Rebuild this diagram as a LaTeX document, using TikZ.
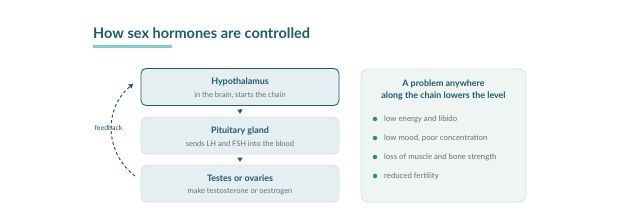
\documentclass[tikz,border=0pt]{standalone}
\usepackage{fontspec}
\setmainfont{Lato}
\usetikzlibrary{arrows.meta}
\definecolor{dark}{HTML}{1F5A6E}
\definecolor{subgrey}{HTML}{6A6F72}
\definecolor{boxfill}{HTML}{E5EEF1}
\definecolor{boxline}{HTML}{D7E5EA}
\definecolor{accent}{HTML}{7FD3C6}
\definecolor{panelfill}{HTML}{EEF5F3}
\definecolor{panelline}{HTML}{D3E5E0}
\definecolor{bullet}{HTML}{2A8C7E}
\begin{document}
\begin{tikzpicture}[x=1pt,y=-1pt,
  stepbox/.style={draw=boxline, fill=boxfill, rounded corners=5pt, line width=0.6pt, minimum width=198pt, minimum height=37pt, inner sep=0pt},
  boxtitle/.style={font=\fontsize{8.9}{11}\selectfont\bfseries, text=dark, inner sep=0pt},
  boxsub/.style={font=\fontsize{7.5}{9}\selectfont, text=subgrey, inner sep=0pt},
  chainarrow/.style={draw=dark, fill=dark, -{Triangle[width=5pt,length=4pt]}, shorten <=3.5pt, shorten >=3pt, line width=0.5pt},
  bullettext/.style={font=\fontsize{7.8}{9}\selectfont, text=subgrey, anchor=west, inner sep=0pt},
  dot/.style={circle, fill=bullet, minimum size=4.5pt, inner sep=0pt}
]
\useasboundingbox (0,0) rectangle (633,217);
\fill[white] (0,0) rectangle (633,217);
% title
\node[anchor=base west, inner sep=0pt, font=\fontsize{14.5}{18}\selectfont\bfseries, text=dark] (title) at (93,38) {How sex hormones are controlled};
\draw[accent, line width=2.5pt] (93,46.5) -- (172,46.5);
% chain
\node[stepbox, draw=dark, line width=0.8pt] (hyp) at (240,87) {};
\node[stepbox] (pit) at (240,135.5) {};
\node[stepbox] (tes) at (240,183.5) {};
\node[boxtitle] (hypt) at (240,82) {Hypothalamus};
\node[boxsub] (hyps) at (240,95) {in the brain, starts the chain};
\node[boxtitle] (pitt) at (240,130.5) {Pituitary gland};
\node[boxsub] (pits) at (240,143.5) {sends LH and FSH into the blood};
\node[boxtitle] (test) at (240,178.5) {Testes or ovaries};
\node[boxsub] (tess) at (240,191.5) {make testosterone or oestrogen};
\draw[chainarrow] (hyp.south) -- (pit.north);
\draw[chainarrow] (pit.south) -- (tes.north);
% feedback
\coordinate (fbstart) at (135,176);
\coordinate (fbend) at (133,84);
\draw[dark, line width=1pt, dash pattern=on 3pt off 2.5pt, -{Triangle[width=5pt,length=4pt]}] (fbstart) .. controls (104,152) and (104,108) .. (fbend);
\node[font=\fontsize{7}{8}\selectfont, text=dark, inner sep=0pt] (fb) at (108.5,127.5) {feedback};
% panel
\node[draw=panelline, fill=panelfill, rounded corners=7pt, line width=0.8pt, minimum width=165pt, minimum height=133pt, inner sep=0pt] (panel) at (443.5,135.5) {};
\node[font=\fontsize{8.9}{12}\selectfont\bfseries, text=dark, align=center, inner sep=0pt] (ptitle) at (443.5,90) {A problem anywhere\\along the chain lowers the level};
\node[dot] (d1) at (375,119) {};
\node[dot] (d2) at (375,138) {};
\node[dot] (d3) at (375,157) {};
\node[dot] (d4) at (375,176) {};
\node[bullettext] (b1) at (384,119) {low energy and libido};
\node[bullettext] (b2) at (384,138) {low mood, poor concentration};
\node[bullettext] (b3) at (384,157) {loss of muscle and bone strength};
\node[bullettext] (b4) at (384,176) {reduced fertility};
\end{tikzpicture}
\end{document}
